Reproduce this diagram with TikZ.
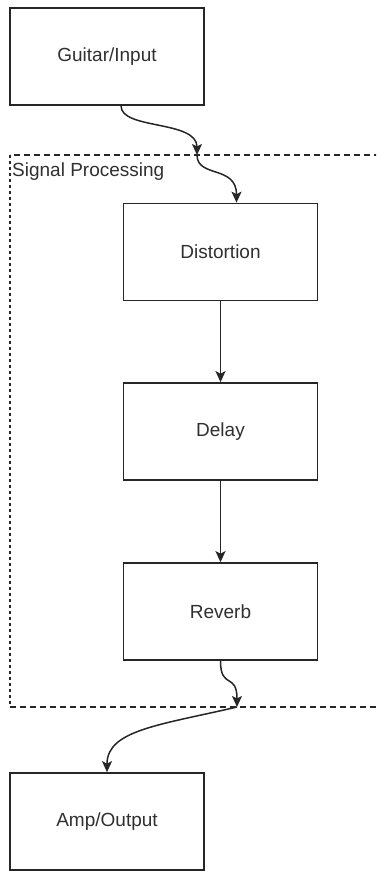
\documentclass[tikz,border=0pt]{standalone}
\usepackage{fontspec}
\setmainfont{Liberation Sans}
\usetikzlibrary{arrows.meta}
\definecolor{ink}{HTML}{262626}
\definecolor{txt}{HTML}{303030}
\begin{document}
\begin{tikzpicture}[x=1pt,y=1pt,
  box/.style={draw=ink,line width=1.7pt,fill=white,minimum width=194pt,minimum height=97pt,
    inner sep=0pt,text=txt,font=\fontsize{19}{22}\selectfont},
  link/.style={draw=ink,line width=1.5pt,-{Stealth[length=11pt,width=10pt,inset=2.5pt]}},
  grpline/.style={draw=ink,line width=1.1pt,dash pattern=on 6pt off 4pt},
  grpside/.style={draw=ink,line width=1.4pt,dash pattern=on 3pt off 3pt}]
\useasboundingbox (0,0) rectangle (376,-871);
\begin{scope}
\clip (0,0) rectangle (376,-871);
% signal processing group frame (open to the right)
\draw[grpline] (380,-155) -- (10,-155);
\draw[grpline] (10,-707) -- (380,-707);
\draw[grpside] (10,-155) -- (10,-707);
\end{scope}
\node[anchor=base west,inner sep=0pt,text=txt,font=\fontsize{19}{22}\selectfont] (grplabel) at (12,-176) {Signal Processing};
% blocks
\node[box] (gi)  at (107,-56.5)  {Guitar/Input};
\node[box] (dist) at (220.5,-252) {Distortion};
\node[box] (dly) at (220.5,-431.5) {Delay};
\node[box] (rev) at (220.5,-611.5) {Reverb};
\node[box] (amp) at (107,-821.5) {Amp/Output};
% points where the chain crosses the group frame
\coordinate (in1) at (197,-155);
\coordinate (out1) at (237,-707);
% connectors
\draw[link] ([xshift=14pt]gi.south) .. controls ++(0,-24) and (197,-120) .. (in1);
\draw[link] (in1) .. controls (197,-178) and ([xshift=16pt]dist.north |- 0,-165) .. ([xshift=16pt]dist.north);
\draw[link] (dist.south) -- (dly.north);
\draw[link] (dly.south) -- (rev.north);
\draw[link] (rev.south) .. controls (220.5,-690) and (237,-672) .. (out1);
\draw[link] (out1) .. controls (160,-725) and (amp.north |- 0,-730) .. (amp.north);
\end{tikzpicture}
\end{document}
